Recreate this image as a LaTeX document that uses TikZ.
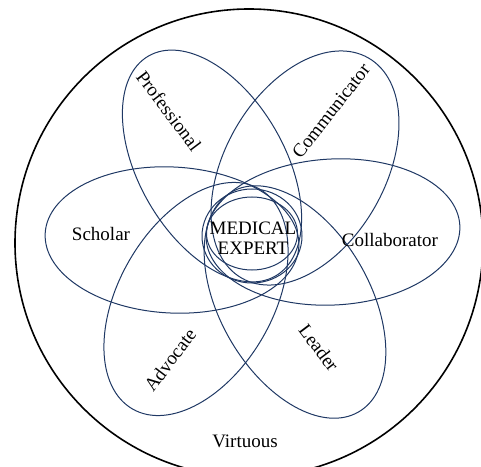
\documentclass[tikz,border=0pt]{standalone}
\usepackage{fontspec}
\setmainfont{Liberation Serif}
\usepackage{xcolor}
\definecolor{petalBlue}{RGB}{31,56,100}
\tikzstyle{petal}=[draw=petalBlue, line width=1pt]
\tikzstyle{ring}=[draw=black, line width=1.6pt]
\tikzstyle{myLabel}=[font=\fontsize{19}{20}\selectfont, inner sep=0pt]

\begin{document}
\begin{tikzpicture}[x=1pt,y=1pt]
   \useasboundingbox (0,0) rectangle (481,466);

   % Outer ring
   \draw[ring] (249,223) circle [radius=234];

   % Six petals round the centre
   \draw[petal, shift={(172,226)}, rotate=-3] (0,0) ellipse [x radius=127, y radius=73];
   \draw[petal, shift={(333,234)}, rotate=3] (0,0) ellipse [x radius=127, y radius=73];
   \draw[petal, shift={(212,300)}, rotate=120] (0,0) ellipse [x radius=127, y radius=73];
   \draw[petal, shift={(305,298)}, rotate=60] (0,0) ellipse [x radius=127, y radius=80];
   \draw[petal, shift={(196,167)}, rotate=240] (0,0) ellipse [x radius=127, y radius=77];
   \draw[petal, shift={(295,164)}, rotate=300] (0,0) ellipse [x radius=127, y radius=75];

   % Centre rings
   \draw[petal] (252,230) ellipse [x radius=50, y radius=47];
   \draw[petal] (252,232.5) ellipse [x radius=45.5, y radius=36.5];

   % Labels
   \node[myLabel, align=center] (expert) at (253,228) {MEDICAL\\EXPERT};
   \node[myLabel] (scholar) at (101,232) {Scholar};
   \node[myLabel] (collab) at (390,226) {Collaborator};
   \node[myLabel, rotate=-53] (prof) at (169,355) {Professional};
   \node[myLabel, rotate=52] (comm) at (331,355) {Communicator};
   \node[myLabel, rotate=53] (advocate) at (170,106) {Advocate};
   \node[myLabel, rotate=-53] (leader) at (319,118) {Leader};
   \node[myLabel] (virtuous) at (245,25) {Virtuous};

\end{tikzpicture}
\end{document}
